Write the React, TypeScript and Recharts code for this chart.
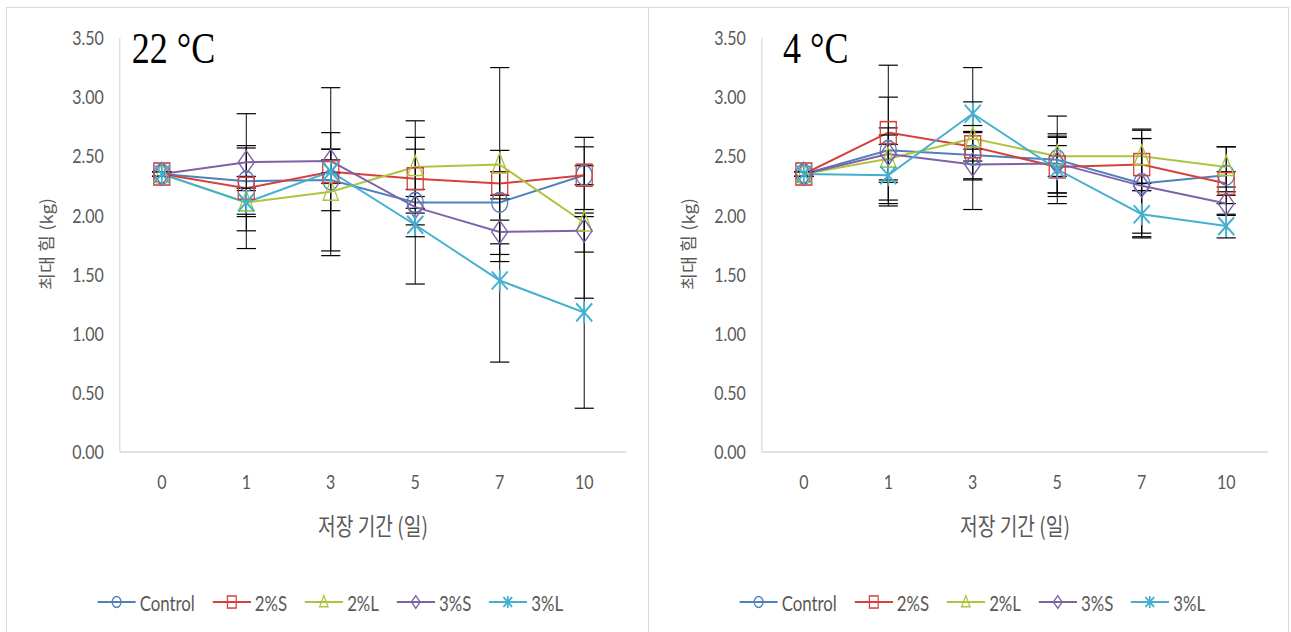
import React from 'react';
import { LineChart, Line, XAxis, YAxis, ErrorBar, Legend } from 'recharts';

// ---------- data ----------
const DAYS = ['0', '1', '3', '5', '7', '10'];
const Y_TICKS = [0, 0.5, 1, 1.5, 2, 2.5, 3, 3.5];
const SERIES_NAMES = ['Control', '2%S', '2%L', '3%S', '3%L'];
const SERIES_COLORS = ['#4F81BD', '#D6403B', '#AEC43F', '#7E62A6', '#45AFD0'];
const SERIES_SHAPES = ['circle', 'square', 'triangle', 'diamond', 'star'];

// 22 °C
const warmControl = [2.35, 2.29, 2.30, 2.11, 2.11, 2.34];
const warm2S = [2.35, 2.23, 2.37, 2.31, 2.27, 2.34];
const warm2L = [2.35, 2.11, 2.20, 2.41, 2.43, 1.94];
const warm3S = [2.35, 2.45, 2.46, 2.07, 1.86, 1.87];
const warm3L = [2.35, 2.11, 2.37, 1.92, 1.45, 1.18];
const warmControlErr = [0.02, 0.57, 0.26, 0.69, 0.44, 0.32];
const warm2SErr = [0.02, 0.36, 0.71, 0.25, 0.10, 0.08];
const warm2LErr = [0.02, 0.12, 0.50, 0.25, 0.82, 0.64];
const warm3SErr = [0.02, 0.12, 0.10, 0.15, 0.10, 0.18];
const warm3LErr = [0.02, 0.10, 0.10, 0.10, 0.69, 0.81];

// 4 °C
const coldControl = [2.35, 2.55, 2.51, 2.47, 2.27, 2.34];
const cold2S = [2.35, 2.70, 2.58, 2.41, 2.43, 2.27];
const cold2L = [2.35, 2.48, 2.65, 2.50, 2.50, 2.41];
const cold3S = [2.35, 2.52, 2.43, 2.44, 2.25, 2.10];
const cold3L = [2.35, 2.34, 2.86, 2.39, 2.01, 1.91];
const coldControlErr = [0.02, 0.45, 0.20, 0.37, 0.45, 0.24];
const cold2SErr = [0.02, 0.57, 0.12, 0.25, 0.22, 0.10];
const cold2LErr = [0.02, 0.20, 0.60, 0.17, 0.23, 0.17];
const cold3SErr = [0.02, 0.22, 0.13, 0.25, 0.40, 0.10];
const cold3LErr = [0.02, 0.26, 0.10, 0.20, 0.20, 0.10];

const WARM_VALUES = [warmControl, warm2S, warm2L, warm3S, warm3L];
const WARM_ERRORS = [warmControlErr, warm2SErr, warm2LErr, warm3SErr, warm3LErr];
const COLD_VALUES = [coldControl, cold2S, cold2L, cold3S, cold3L];
const COLD_ERRORS = [coldControlErr, cold2SErr, cold2LErr, cold3SErr, cold3LErr];

function buildRows(values: number[][], errors: number[][]) {
  return DAYS.map((d, i) => {
    const row: any = { day: d };
    values.forEach((arr, s) => {
      row['s' + s] = arr[i];
      row['e' + s] = errors[s][i];
    });
    return row;
  });
}

const warmData = buildRows(WARM_VALUES, WARM_ERRORS);
const coldData = buildRows(COLD_VALUES, COLD_ERRORS);

// ---------- styling ----------
const TEXT_COLOR = '#595959';
const AXIS_COLOR = '#D9D9D9';
const LATIN_FONT = 'Lato, "Noto Sans", sans-serif';
const KOREAN_FONT = '"Noto Sans CJK KR", "Noto Sans", sans-serif';
const SQUEEZE = 0.8;
const CHART_W = 800;
const CHART_H = 620;

function Marker({ shape, cx, cy, color, r, sw }: any) {
  if (cx == null || cy == null) return null;
  switch (shape) {
    case 'circle':
      return <circle cx={cx} cy={cy} r={r} fill="none" stroke={color} strokeWidth={sw} />;
    case 'square':
      return <rect x={cx - r} y={cy - r * 1.1} width={2 * r} height={2.2 * r} fill="none" stroke={color} strokeWidth={sw} />;
    case 'triangle':
      return (
        <polygon
          points={`${cx},${cy - r * 1.15} ${cx + r * 0.95},${cy + r * 0.85} ${cx - r * 0.95},${cy + r * 0.85}`}
          fill="none"
          stroke={color}
          strokeWidth={sw}
        />
      );
    case 'diamond':
      return (
        <polygon
          points={`${cx},${cy - r * 1.15} ${cx + r},${cy} ${cx},${cy + r * 1.15} ${cx - r},${cy}`}
          fill="none"
          stroke={color}
          strokeWidth={sw}
        />
      );
    case 'star':
      return (
        <g stroke={color} strokeWidth={sw + 0.6}>
          <line x1={cx} y1={cy - r * 1.1} x2={cx} y2={cy + r * 1.1} />
          <line x1={cx - r} y1={cy - r * 0.9} x2={cx + r} y2={cy + r * 0.9} />
          <line x1={cx - r} y1={cy + r * 0.9} x2={cx + r} y2={cy - r * 0.9} />
        </g>
      );
    default:
      return null;
  }
}

function LegendContent() {
  return (
    <div
      style={{
        display: 'flex',
        justifyContent: 'center',
        alignItems: 'center',
        height: 24,
        fontFamily: LATIN_FONT,
        fontSize: 21,
        color: TEXT_COLOR,
        whiteSpace: 'nowrap',
        paddingLeft: 8,
      }}
    >
      {SERIES_NAMES.map((name, i) => (
        <div key={name} style={{ display: 'flex', alignItems: 'center', marginRight: i < SERIES_NAMES.length - 1 ? 22 : 0 }}>
          <svg width={48} height={24} style={{ display: 'block' }}>
            <line x1={0} y1={12} x2={48} y2={12} stroke={SERIES_COLORS[i]} strokeWidth={2} />
            <Marker shape={SERIES_SHAPES[i]} cx={24} cy={12} color={SERIES_COLORS[i]} r={5.5} sw={1.5} />
          </svg>
          <span style={{ marginLeft: 5 }}>{name}</span>
        </div>
      ))}
    </div>
  );
}

function YTitle(props: any) {
  return (
    <text
      transform={`translate(48.75, 236) rotate(-90) scale(0.88, 1)`}
      textAnchor="middle"
      dominantBaseline="central"
      fontFamily={KOREAN_FONT}
      fontSize={21}
      fill={TEXT_COLOR}
    >
      최대 힘 (kg)
    </text>
  );
}

function Panel({ data, title, titleX, left, width }: any) {
  return (
    <div
      style={{
        position: 'absolute',
        left,
        top: 7,
        width,
        height: 660,
        border: `1px solid ${AXIS_COLOR}`,
        boxSizing: 'border-box',
        overflow: 'hidden',
      }}
    >
      <div
        style={{
          position: 'absolute',
          left: 0,
          top: 0,
          width: CHART_W,
          height: CHART_H,
          transform: `scaleX(${SQUEEZE})`,
          transformOrigin: '0 0',
        }}
      >
        <LineChart width={CHART_W} height={CHART_H} data={data} margin={{ top: 30, right: 26, left: 0, bottom: 0 }}>
          <XAxis
            dataKey="day"
            type="category"
            padding={{ left: 52.5, right: 52.5 }}
            axisLine={{ stroke: AXIS_COLOR, strokeWidth: 1.5 }}
            tickLine={false}
            tickMargin={17}
            tick={{ fill: TEXT_COLOR, fontSize: 20, fontFamily: LATIN_FONT }}
            height={176}
            interval={0}
            label={{
              value: '저장 기간 (일)',
              position: 'insideTop',
              offset: 66,
              fill: TEXT_COLOR,
              fontSize: 24,
              fontFamily: KOREAN_FONT,
            }}
          />
          <YAxis
            type="number"
            domain={[0, 3.5]}
            ticks={Y_TICKS}
            interval={0}
            tickFormatter={(v: number) => v.toFixed(2)}
            width={141}
            axisLine={{ stroke: AXIS_COLOR, strokeWidth: 1.5 }}
            tickLine={false}
            tickMargin={14}
            tick={{ fill: TEXT_COLOR, fontSize: 20, fontFamily: LATIN_FONT }}
            label={{ content: <YTitle /> }}
          />
          <Legend
            verticalAlign="middle"
            align="center"
            layout="horizontal"
            wrapperStyle={{ top: 582, left: 0, width: CHART_W }}
            content={<LegendContent />}
          />
          {SERIES_NAMES.map((name, s) => (
            <Line
              key={name}
              name={name}
              dataKey={'s' + s}
              stroke={SERIES_COLORS[s]}
              strokeWidth={2}
              isAnimationActive={false}
              activeDot={false}
              dot={(p: any) => (
                <Marker
                  key={`${name}-${p.index}`}
                  shape={SERIES_SHAPES[s]}
                  cx={p.cx}
                  cy={p.cy}
                  color={SERIES_COLORS[s]}
                  r={10}
                  sw={1.6}
                />
              )}
            >
              <ErrorBar dataKey={'e' + s} width={12} stroke="#000" strokeWidth={1.2} direction="y" isAnimationActive={false} />
            </Line>
          ))}
        </LineChart>
        <svg
          width={CHART_W}
          height={80}
          style={{ position: 'absolute', left: 0, top: 0, pointerEvents: 'none' }}
        >
          <text x={titleX} y={55} fontFamily='"Liberation Serif", "Times New Roman", serif' fontSize={45} fill="#000">
            {title}
          </text>
        </svg>
      </div>
    </div>
  );
}

export default function App() {
  return (
    <div style={{ position: 'absolute', left: 0, top: 0, width: 1291, height: 632, background: '#fff', overflow: 'hidden' }}>
      <Panel data={warmData} title="22 °C" titleX={156} left={6} width={643} />
      <Panel data={coldData} title="4 °C" titleX={167.5} left={648} width={641} />
    </div>
  );
}
